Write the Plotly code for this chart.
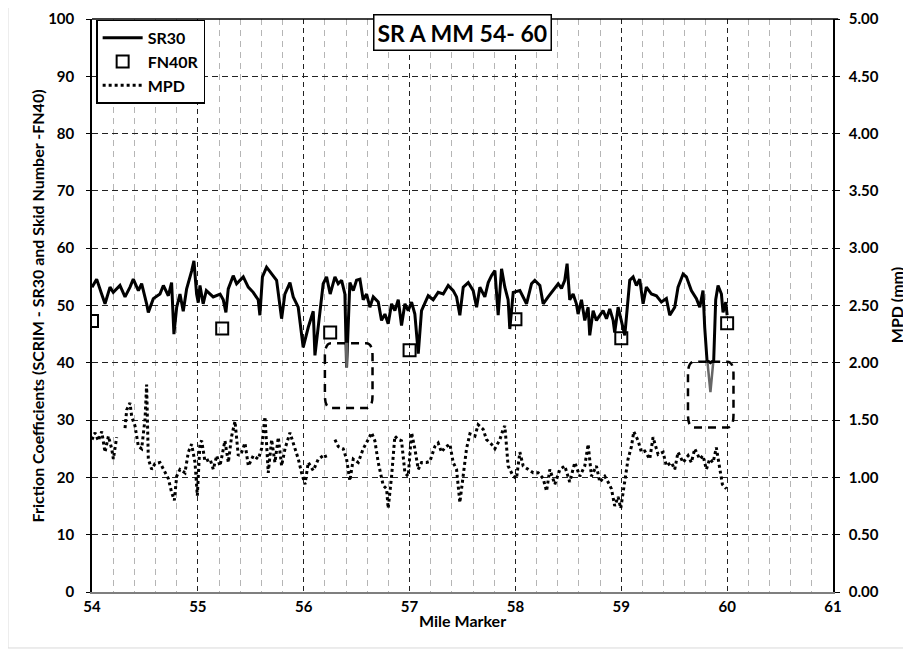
import plotly.graph_objects as go

# ---------------- data ----------------
sr30_mile = [54.000, 54.044, 54.091, 54.123, 54.170, 54.201, 54.264, 54.312, 54.359, 54.390,
             54.438, 54.469, 54.516, 54.532, 54.579, 54.642, 54.674, 54.721, 54.752, 54.774,
             54.800, 54.831, 54.862, 54.894, 54.941, 54.963, 54.988, 55.004, 55.020, 55.050,
             55.080, 55.145, 55.210, 55.240, 55.265, 55.287, 55.334, 55.366, 55.429, 55.476,
             55.523, 55.570, 55.586, 55.610, 55.649, 55.696, 55.744, 55.791, 55.822, 55.870,
             55.901, 55.948, 55.995, 56.043, 56.090, 56.106, 56.153, 56.184, 56.216, 56.250,
             56.295, 56.326, 56.358, 56.389, 56.405, 56.436, 56.468, 56.499, 56.531, 56.562,
             56.594, 56.625, 56.657, 56.704, 56.735, 56.767, 56.798, 56.830, 56.861, 56.893,
             56.924, 56.956, 56.987, 57.019, 57.050, 57.082, 57.113, 57.145, 57.176, 57.223,
             57.270, 57.318, 57.365, 57.412, 57.444, 57.475, 57.507, 57.554, 57.601, 57.633,
             57.664, 57.711, 57.743, 57.774, 57.806, 57.837, 57.869, 57.900, 57.931, 57.947,
             57.979, 58.042, 58.073, 58.105, 58.152, 58.183, 58.231, 58.262, 58.309, 58.356,
             58.404, 58.435, 58.466, 58.488, 58.513, 58.545, 58.576, 58.592, 58.624, 58.655,
             58.687, 58.702, 58.734, 58.765, 58.797, 58.828, 58.860, 58.891, 58.923, 58.938,
             58.970, 59.001, 59.033, 59.080, 59.112, 59.143, 59.174, 59.206, 59.237, 59.285,
             59.332, 59.379, 59.426, 59.458, 59.505, 59.536, 59.584, 59.615, 59.662, 59.710,
             59.741, 59.772, 59.788, 59.810, 59.842, 59.873, 59.892, 59.914, 59.946, 59.961,
             59.987, 60.000]
sr30_val = [53.2, 54.6, 52.0, 50.3, 53.2, 52.3, 53.5, 51.5, 53.2, 54.6,
            52.6, 53.8, 50.3, 48.8, 51.2, 52.0, 53.5, 51.7, 54.0, 45.0,
            49.7, 52.0, 49.0, 52.9, 56.0, 57.8, 52.0, 50.5, 53.5, 50.3,
            52.6, 51.5, 52.0, 51.0, 48.8, 52.9, 55.2, 53.8, 55.0, 53.2,
            52.3, 51.0, 48.3, 55.0, 56.7, 55.5, 54.4, 47.7, 52.0, 54.0,
            51.5, 49.7, 42.7, 46.2, 49.0, 41.3, 49.0, 53.8, 55.0, 52.0,
            55.0, 53.8, 54.4, 52.0, 39.2, 54.0, 52.6, 54.4, 54.6, 51.0,
            52.0, 49.7, 51.5, 50.6, 47.4, 48.5, 46.8, 50.3, 49.1, 51.0,
            46.5, 50.3, 49.1, 50.6, 48.5, 41.6, 49.1, 50.3, 51.7, 51.0,
            52.3, 52.0, 53.5, 52.6, 51.5, 48.3, 53.2, 54.0, 52.6, 49.7,
            53.2, 51.5, 54.0, 55.2, 56.1, 48.3, 56.4, 53.2, 51.0, 45.9,
            52.3, 52.6, 51.5, 50.3, 53.8, 54.4, 53.5, 50.3, 51.5, 52.6,
            53.8, 53.0, 54.4, 57.3, 51.0, 52.0, 50.3, 48.5, 51.0, 47.4,
            49.7, 44.8, 49.1, 47.4, 48.3, 49.1, 47.7, 49.4, 47.4, 45.3,
            49.7, 47.4, 44.8, 54.4, 55.0, 53.5, 54.6, 50.3, 53.2, 52.0,
            51.7, 50.6, 51.2, 48.3, 49.7, 53.2, 55.5, 55.0, 52.6, 51.2,
            49.7, 52.6, 46.2, 40.4, 40.0, 40.4, 51.0, 53.5, 52.0, 48.8,
            50.6, 48.3]

# portions of the SR30 trace below the highlighted threshold (drawn grey)
dip_mile = [56.400, 56.405, 56.410, None, 59.815, 59.842, 59.868]
dip_val = [43.5, 39.2, 43.5, None, 40.0, 34.9, 40.0]

fn40r_mile = [54.0, 55.23, 56.25, 57.0, 58.0, 59.0, 60.0]
fn40r_val = [47.3, 46.0, 45.3, 42.2, 47.6, 44.3, 46.9]

mpd_mile = [54.000, 54.029, 54.060, 54.092, 54.123, 54.155, 54.186, 54.202, 54.233, 54.270,
            54.312, 54.328, 54.359, 54.375, 54.406, 54.438, 54.469, 54.485, 54.501, 54.516,
            54.532, 54.564, 54.595, 54.642, 54.674, 54.721, 54.752, 54.778, 54.800, 54.831,
            54.878, 54.910, 54.941, 54.973, 54.995, 55.020, 55.036, 55.067, 55.115, 55.146,
            55.178, 55.209, 55.256, 55.288, 55.319, 55.351, 55.382, 55.414, 55.445, 55.477,
            55.524, 55.571, 55.602, 55.634, 55.665, 55.697, 55.728, 55.760, 55.791, 55.823,
            55.870, 55.902, 55.949, 55.980, 56.012, 56.043, 56.090, 56.138, 56.200, 56.215,
            56.250, 56.295, 56.326, 56.373, 56.405, 56.436, 56.468, 56.515, 56.562, 56.609,
            56.641, 56.672, 56.704, 56.751, 56.783, 56.798, 56.830, 56.861, 56.893, 56.924,
            56.956, 56.987, 57.019, 57.050, 57.082, 57.113, 57.160, 57.192, 57.239, 57.270,
            57.302, 57.333, 57.381, 57.412, 57.444, 57.475, 57.507, 57.538, 57.570, 57.617,
            57.648, 57.695, 57.727, 57.774, 57.806, 57.853, 57.884, 57.900, 57.931, 57.979,
            58.010, 58.042, 58.073, 58.120, 58.168, 58.215, 58.262, 58.294, 58.325, 58.372,
            58.420, 58.466, 58.513, 58.561, 58.608, 58.655, 58.687, 58.718, 58.765, 58.797,
            58.844, 58.875, 58.907, 58.938, 58.970, 58.995, 59.033, 59.064, 59.096, 59.118,
            59.159, 59.190, 59.222, 59.269, 59.300, 59.348, 59.395, 59.426, 59.474, 59.505,
            59.536, 59.584, 59.631, 59.662, 59.694, 59.741, 59.772, 59.804, 59.835, 59.867,
            59.898, 59.930, 59.955, 59.993]
mpd_val = [1.33, 1.39, 1.32, 1.40, 1.22, 1.36, 1.25, 1.16, 1.35, None,
           1.43, 1.59, 1.65, 1.53, 1.45, 1.27, 1.25, 1.39, 1.51, 1.81,
           1.16, 1.07, 1.12, 1.13, 1.07, 0.99, 0.87, 0.80, 1.01, 1.07,
           1.04, 1.22, 1.29, 1.13, 0.84, 1.30, 1.32, 1.14, 1.16, 1.07,
           1.19, 1.10, 1.32, 1.13, 1.36, 1.49, 1.19, 1.22, 1.30, 1.10,
           1.19, 1.16, 1.25, 1.53, 1.04, 1.33, 1.13, 1.35, 1.10, 1.25,
           1.39, 1.30, 1.16, 1.04, 0.94, 1.13, 1.06, 1.16, 1.20, 1.16,
           None, 1.33, 1.27, 1.25, 1.16, 0.97, 1.16, 1.13, 1.25, 1.33,
           1.39, 1.32, 1.13, 0.93, 0.90, 0.73, 1.01, 1.36, 1.33, 1.32,
           1.04, 1.01, 1.39, 1.25, 1.07, 1.13, 1.13, 1.14, 1.27, 1.30,
           1.22, 1.26, 1.29, 1.13, 1.07, 0.78, 1.04, 1.25, 1.38, 1.36,
           1.46, 1.42, 1.33, 1.29, 1.25, 1.33, 1.42, 1.45, 1.10, 1.01,
           0.99, 1.22, 1.10, 1.07, 1.04, 1.04, 0.99, 0.88, 1.07, 0.94,
           1.07, 1.10, 0.96, 1.13, 1.01, 1.10, 1.29, 1.01, 1.10, 0.96,
           1.01, 0.96, 0.90, 0.75, 0.83, 0.73, 0.99, 1.16, 1.27, 1.40,
           1.32, 1.22, 1.23, 1.16, 1.35, 1.20, 1.22, 1.10, 1.13, 1.07,
           1.22, 1.13, 1.19, 1.13, 1.25, 1.16, 1.19, 1.07, 1.16, 1.13,
           1.26, 1.07, 0.94, 0.90]

# highlighted regions (mile range, friction range)
boxes = [(56.20, 56.65, 32.1, 43.4), (59.63, 60.06, 28.7, 40.2)]

title_text = "SR A MM 54- 60"
x_title = "Mile Marker"
y_title = "Friction Coefficients (SCRIM - SR30 and Skid Number -FN40)"
y2_title = "MPD (mm)"

FONT = "Lato, 'Open Sans', sans-serif"

fig = go.Figure()
fig.add_trace(go.Scatter(x=sr30_mile, y=sr30_val, mode="lines", name="SR30",
                         line=dict(color="black", width=3)))
fig.add_trace(go.Scatter(x=dip_mile, y=dip_val, mode="lines", showlegend=False,
                         line=dict(color="#666666", width=2.5), hoverinfo="skip"))
fig.add_trace(go.Scatter(x=fn40r_mile, y=fn40r_val, mode="markers", name="FN40R",
                         marker=dict(symbol="square-open", size=12, color="black",
                                     line=dict(width=2, color="black"))))
fig.add_trace(go.Scatter(x=mpd_mile, y=mpd_val, mode="lines", name="MPD", yaxis="y2",
                         line=dict(color="black", width=3, dash="dot")))


def rounded_box(x0, x1, y0, y1, rx=0.06, ry=2.2):
    return (f"M {x0},{y1-ry} L {x0},{y0+ry} Q {x0},{y0} {x0+rx},{y0} "
            f"L {x1-rx},{y0} Q {x1},{y0} {x1},{y0+ry} L {x1},{y1-ry} "
            f"Q {x1},{y1} {x1-rx},{y1} L {x0+rx},{y1} Q {x0},{y1} {x0},{y1-ry} Z")


shapes = []
for (a, b, c, d) in boxes:
    shapes.append(dict(type="path", xref="x", yref="y", path=rounded_box(a, b, c, d),
                       line=dict(color="black", width=2.5, dash="8px,6px")))
# light outer chart border
shapes.append(dict(type="line", xref="paper", yref="paper", x0=-0.1134, x1=-0.1134,
                   y0=-0.0977, y1=1.05, line=dict(color="#d9d9d9", width=1)))
shapes.append(dict(type="line", xref="paper", yref="paper", x0=-0.1134, x1=1.2,
                   y0=-0.0977, y1=-0.0977, line=dict(color="#d9d9d9", width=1)))
# top border at 100
shapes.append(dict(type="line", xref="paper", yref="paper", x0=0, x1=1.007, y0=1, y1=1,
                   line=dict(color="black", width=1.5)))

bold = dict(family=FONT, size=15, color="black", weight=700)

fig.update_layout(
    width=911, height=663,
    margin=dict(l=84, r=86, t=11, b=79, autoexpand=False),
    paper_bgcolor="white", plot_bgcolor="white",
    showlegend=True,
    legend=dict(x=0.006, y=0.999, xanchor="left", yanchor="top",
                bgcolor="white", bordercolor="black", borderwidth=1.2,
                font=dict(family=FONT, size=16, color="black", weight=700),
                tracegroupgap=0, itemwidth=40),
    xaxis=dict(range=[54, 61], dtick=1, tick0=54, showgrid=True, automargin=False,
               gridcolor="#222222", griddash="5px,4px", gridwidth=1,
               minor=dict(dtick=0.2, showgrid=True, gridcolor="#b5b5b5",
                          griddash="6px,5px", gridwidth=1),
               showline=True, linecolor="#7f7f7f", linewidth=1.5, mirror=False,
               ticks="", tickfont=bold, zeroline=False),
    yaxis=dict(range=[0, 100], dtick=10, showgrid=True, gridcolor="#222222", automargin=False,
               griddash="6px,4px", gridwidth=1, showline=True, linecolor="black",
               linewidth=1.5, ticks="outside", ticklen=4, tickcolor="black",
               tickfont=bold, zeroline=False, ticklabelstandoff=9),
    yaxis2=dict(range=[0, 5], dtick=0.5, tickformat=".2f", overlaying="y", side="right",
                showgrid=False, showline=True, linecolor="black", linewidth=1.5,
                automargin=False,
                ticks="outside", ticklen=5, tickcolor="black", tickfont=bold,
                zeroline=False, ticklabelstandoff=6),
    shapes=shapes,
    annotations=[
        dict(text=title_text, xref="paper", yref="paper", x=0.5, y=0.977,
             xanchor="center", yanchor="middle", showarrow=False,
             font=dict(family=FONT, size=23, color="black", weight=700),
             bgcolor="white", bordercolor="black", borderwidth=1.5, borderpad=3),
        dict(text=x_title, xref="paper", yref="paper", x=0.5, y=-0.049,
             xanchor="center", yanchor="middle", showarrow=False,
             font=dict(family=FONT, size=16, color="black", weight=700)),
        dict(text=y_title, xref="paper", yref="paper", x=-0.0729, y=0.5,
             xanchor="center", yanchor="middle", textangle=-90, showarrow=False,
             font=dict(family=FONT, size=16, color="black", weight=700)),
        dict(text=y2_title, xref="paper", yref="paper", x=1.086, y=0.5,
             xanchor="center", yanchor="middle", textangle=-90, showarrow=False,
             font=dict(family=FONT, size=16, color="black", weight=700)),
    ],
)

fig.write_html("out.html")
